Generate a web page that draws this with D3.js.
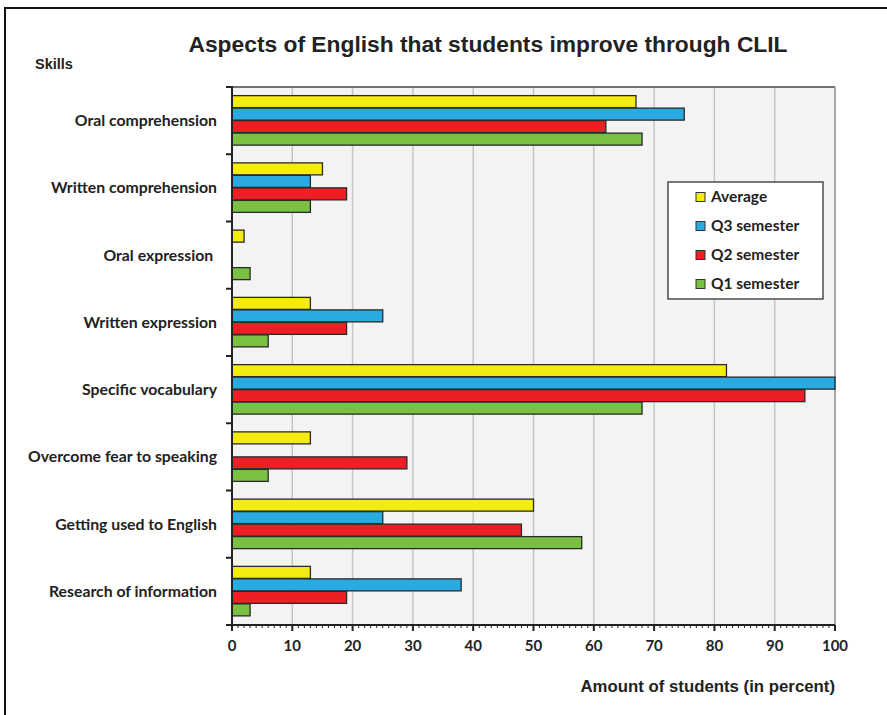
<!DOCTYPE html>
<html><head><meta charset="utf-8">
<script src="https://cdn.jsdelivr.net/npm/d3@7"></script>
<style>body{margin:0;background:#fff}svg{display:block}</style>
</head><body>
<svg id="c" width="887" height="715"></svg>
<script>
const categories = ["Oral comprehension","Written comprehension","Oral expression\u00a0","Written expression","Specific vocabulary","Overcome fear to speaking","Getting used to English","Research of information"];
const seriesNames = ["Average","Q3 semester","Q2 semester","Q1 semester"];
const average = [67,15,2,13,82,13,50,13];
const q3 = [75,13,0,25,100,0,25,38];
const q2 = [62,19,0,19,95,29,48,19];
const q1 = [68,13,3,6,68,6,58,3];
const seriesValues = [average,q3,q2,q1];
const colors = ["#f4eb11","#29abe2","#ed1f24","#7ac143"];
const xTicks = [0,10,20,30,40,50,60,70,80,90,100];

const svg = d3.select("#c");
const L=232,R=835,T=87,B=625;
const labelFont = "Lato, 'Open Sans', sans-serif";

// outer frame
svg.append("rect").attr("x",5).attr("y",8).attr("width",900).attr("height",800)
  .attr("fill","#fff").attr("stroke","#111").attr("stroke-width",2);

const x = d3.scaleLinear().domain([0,100]).range([L,R]);
const y = d3.scaleBand().domain(categories).range([T,B]).padding(0);
const yi = d3.scaleBand().domain(seriesNames).range([0,y.bandwidth()]).paddingInner(0).paddingOuter(0.69);

// plot background
svg.append("rect").attr("x",L).attr("y",T).attr("width",R-L).attr("height",B-T).attr("fill","#f2f3f2");
// grid
svg.append("g").selectAll("line").data(xTicks.slice(1)).join("line")
  .attr("x1",d=>x(d)).attr("x2",d=>x(d)).attr("y1",T).attr("y2",B)
  .attr("stroke","#c6c6c6").attr("stroke-width",1.5);
svg.append("line").attr("x1",L).attr("x2",R).attr("y1",T).attr("y2",T).attr("stroke","#444").attr("stroke-width",1.5);
svg.append("line").attr("x1",R).attr("x2",R).attr("y1",T).attr("y2",B).attr("stroke","#999").attr("stroke-width",1.5);

// bars
const rows=[];
categories.forEach((c,i)=>seriesNames.forEach((s,j)=>rows.push({c,s,v:seriesValues[j][i],j})));
svg.append("g").selectAll("rect").data(rows.filter(d=>d.v>0)).join("rect")
  .attr("x",L).attr("y",d=>y(d.c)+yi(d.s))
  .attr("width",d=>x(d.v)-L).attr("height",yi.bandwidth()-0.5)
  .attr("fill",d=>colors[d.j]).attr("stroke","#2a2a2a").attr("stroke-width",1.3);

// y axis
const ya = svg.append("g");
ya.append("line").attr("x1",L).attr("x2",L).attr("y1",T-1).attr("y2",B).attr("stroke","#222").attr("stroke-width",2);
const bounds = categories.map(c=>y(c)).concat([B]);
ya.selectAll("line.t").data(bounds).join("line").attr("class","t")
  .attr("x1",L-6).attr("x2",L).attr("y1",d=>d).attr("y2",d=>d).attr("stroke","#222").attr("stroke-width",2);
ya.selectAll("text").data(categories).join("text")
  .attr("x",217).attr("y",d=>y(d)+y.bandwidth()/2).attr("dy","0.35em")
  .attr("text-anchor","end").attr("font-family",labelFont).attr("font-weight","bold")
  .attr("font-size",15.8).attr("fill","#222").text(d=>d);

// x axis
const xa = svg.append("g");
xa.append("line").attr("x1",L).attr("x2",R).attr("y1",B).attr("y2",B).attr("stroke","#222").attr("stroke-width",2);
xa.selectAll("line.minor").data(d3.range(0,101)).join("line").attr("class","minor")
  .attr("x1",d=>x(d)).attr("x2",d=>x(d)).attr("y1",B).attr("y2",d=>d%10===0?B+6:B+3)
  .attr("stroke","#222").attr("stroke-width",d=>d%10===0?2:1);
xa.selectAll("text").data(xTicks).join("text")
  .attr("x",d=>x(d)).attr("y",651).attr("text-anchor","middle")
  .attr("font-family",labelFont).attr("font-weight","bold").attr("font-size",15).attr("fill","#222").text(d=>d);

// titles
svg.append("text").attr("x",488).attr("y",52).attr("text-anchor","middle")
  .attr("font-family","'Liberation Sans', Arial, sans-serif").attr("font-weight","bold")
  .attr("font-size",22.8).attr("fill","#222").text("Aspects of English  that students improve through CLIL");
svg.append("text").attr("x",35).attr("y",69)
  .attr("font-family","'Liberation Sans', Arial, sans-serif").attr("font-weight","bold")
  .attr("font-size",14.5).attr("fill","#222").text("Skills");
svg.append("text").attr("x",835).attr("y",692).attr("text-anchor","end")
  .attr("font-family","'Liberation Sans', Arial, sans-serif").attr("font-weight","bold")
  .attr("font-size",16.8).attr("fill","#222").text("Amount of students  (in percent)");

// legend
const lg = svg.append("g");
lg.append("rect").attr("x",668).attr("y",182).attr("width",155).attr("height",117)
  .attr("fill","#fff").attr("stroke","#333").attr("stroke-width",1.3);
const lgY = d3.scalePoint().domain(seriesNames).range([197,284]);
lg.selectAll("rect.sw").data(seriesNames).join("rect").attr("class","sw")
  .attr("x",696).attr("y",d=>lgY(d)-4.5).attr("width",9).attr("height",9)
  .attr("fill",(d,i)=>colors[i]).attr("stroke","#333").attr("stroke-width",1);
lg.selectAll("text").data(seriesNames).join("text")
  .attr("x",711).attr("y",d=>lgY(d)).attr("dy","0.35em")
  .attr("font-family",labelFont).attr("font-weight","bold").attr("font-size",15.5).attr("fill","#222").text(d=>d);
</script>
</body></html>
